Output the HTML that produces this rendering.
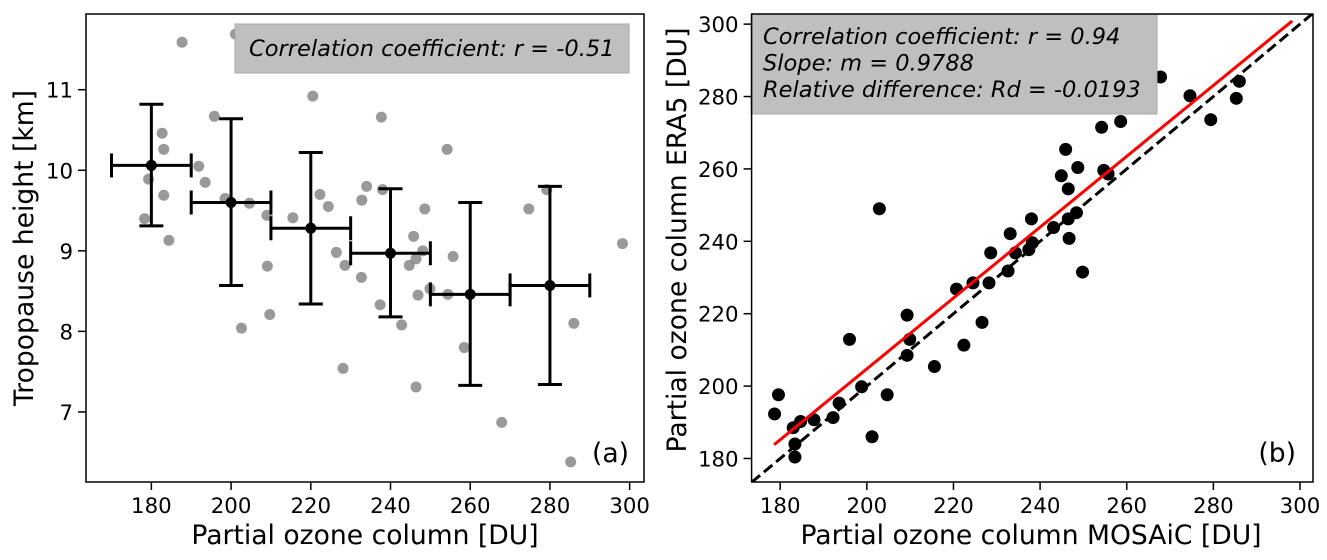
<!DOCTYPE html>
<html><head><meta charset="utf-8"><style>
body{margin:0;background:#fff;}
svg{display:block;font-family:"DejaVu Sans","Liberation Sans",sans-serif;}
</style></head><body>
<svg id="fig" width="1327" height="560"></svg>
<script>
// ---- Panel (a) data ----
const aX = [187.7,201.1,220.5,237.7,195.8,182.7,183.1,254.2,191.9,193.5,179.3,183.1,234.0,238.0,279.2,198.5,204.6,222.3,224.4,232.8,248.6,274.7,209.0,215.5,178.3,184.4,298.2,245.8,226.4,248.1,246.4,255.7,228.6,244.7,209.1,232.7,249.9,254.4,246.9,237.4,209.7,242.8,286.0,202.6,258.5,228.1,246.4,267.9,285.2];
const aY = [11.59,11.69,10.92,10.66,10.67,10.46,10.26,10.26,10.05,9.85,9.89,9.69,9.80,9.76,9.76,9.65,9.59,9.70,9.55,9.63,9.52,9.52,9.44,9.41,9.40,9.13,9.09,9.18,8.98,9.00,8.90,8.93,8.82,8.82,8.81,8.67,8.53,8.46,8.45,8.33,8.21,8.08,8.10,8.04,7.80,7.54,7.31,6.87,6.38];
const binCenters = [180,200,220,240,260,280];
const binMeans = [10.06,9.60,9.28,8.97,8.46,8.57];
const binLow = [9.31,8.57,8.34,8.18,7.33,7.34];
const binHigh = [10.82,10.64,10.22,9.77,9.60,9.80];
const binHalfWidth = 10;
const aXTicks = [180,200,220,240,260,280,300];
const aYTicks = [7,8,9,10,11];
// ---- Panel (b) data ----
const bX = [178.7,179.6,183.0,184.7,183.4,183.4,187.8,192.2,193.6,196.0,198.8,201.2,202.9,204.7,209.3,209.9,209.3,215.6,220.7,222.4,224.5,226.6,228.2,228.6,232.6,233.1,234.3,237.4,238.0,238.2,243.1,244.9,245.9,246.5,246.5,246.7,248.4,248.7,249.8,254.2,254.7,255.7,258.6,267.8,274.6,279.4,285.3,286.0];
const bY = [192.3,197.6,188.5,190.2,184.0,180.4,190.7,191.3,195.3,212.9,199.8,186.0,249.0,197.6,219.6,212.9,208.5,205.4,226.8,211.3,228.5,217.6,228.5,236.8,231.8,242.1,236.8,237.7,246.2,239.6,243.8,258.1,265.4,254.5,246.2,240.8,247.9,260.4,231.5,271.5,259.6,258.6,273.1,285.4,280.2,273.6,279.5,284.2];
const fitSlope = [0.9788];
const fitIntercept = [9.0];
const fitRange = [178.6,298.2];
const bTicks = [180,200,220,240,260,280,300];

const NS="http://www.w3.org/2000/svg";
const svg=document.getElementById('fig');
function mk(tag,attrs,parent){const e=document.createElementNS(NS,tag);for(const k in attrs)e.setAttribute(k,attrs[k]);(parent||svg).appendChild(e);return e;}

const ax={x0:86,x1:644,y0:14,y1:482,xmin:163.6,xmax:303.6,ymin:6.13,ymax:11.94};
const bx={x0:751.6,x1:1313,y0:14,y1:482,xmin:173.4,xmax:303.0,ymin:173.5,ymax:302.8};
function sx(a,v){return a.x0+(v-a.xmin)/(a.xmax-a.xmin)*(a.x1-a.x0);}
function sy(a,v){return a.y1-(v-a.ymin)/(a.ymax-a.ymin)*(a.y1-a.y0);}
const TF=21.3, LF=26.6, BF=22.5;

// ===== Panel a =====
const ga=mk('g',{});


const clipA=mk('clipPath',{id:'ca'});mk('rect',{x:ax.x0,y:ax.y0,width:ax.x1-ax.x0,height:ax.y1-ax.y0},clipA);
const ptsA=mk('g',{'clip-path':'url(#ca)'},ga);


for(let i=0;i<aX.length;i++){
  const c=mk('circle',{cx:sx(ax,aX[i]),cy:sy(ax,aY[i]),r:5.5,fill:'#808080','fill-opacity':0.8},ptsA);
  
  
}
const tba=mk('g',{},ga);


mk('rect',{x:235,y:24,width:394,height:49,fill:'#bfbfbf',stroke:'#a8a8a8','stroke-width':1},tba);
const ta=mk('text',{x:249,y:56,'font-size':BF,'font-style':'italic',fill:'#000'},tba);ta.textContent='Correlation coefficient: r = -0.51';
const eb=mk('g',{},ga);


for(let i=0;i<binCenters.length;i++){
  const cx=sx(ax,binCenters[i]),cy=sy(ax,binMeans[i]);
  const xl=sx(ax,binCenters[i]-binHalfWidth),xr=sx(ax,binCenters[i]+binHalfWidth);
  const yl=sy(ax,binLow[i]),yh=sy(ax,binHigh[i]);
  const st={stroke:'#000','stroke-width':3};
  mk('line',Object.assign({x1:xl,y1:cy,x2:xr,y2:cy},st),eb);
  mk('line',Object.assign({x1:cx,y1:yl,x2:cx,y2:yh},st),eb);
  mk('line',Object.assign({x1:xl,y1:cy-12,x2:xl,y2:cy+12},st),eb);
  mk('line',Object.assign({x1:xr,y1:cy-12,x2:xr,y2:cy+12},st),eb);
  mk('line',Object.assign({x1:cx-12,y1:yl,x2:cx+12,y2:yl},st),eb);
  mk('line',Object.assign({x1:cx-12,y1:yh,x2:cx+12,y2:yh},st),eb);
  const m=mk('circle',{cx:cx,cy:cy,r:5.5,fill:'#000'},eb);
  
  
}
mk('rect',{x:ax.x0,y:ax.y0,width:ax.x1-ax.x0,height:ax.y1-ax.y0,fill:'none',stroke:'#000','stroke-width':1.5},ga);
const xta=mk('g',{},ga);


aXTicks.forEach(v=>{const x=sx(ax,v);mk('line',{x1:x,y1:ax.y1,x2:x,y2:ax.y1+8,stroke:'#000','stroke-width':1.5},xta);
  const t=mk('text',{x:x,y:ax.y1+31,'font-size':TF,'text-anchor':'middle'},xta);t.textContent=v;});
const yta=mk('g',{},ga);


aYTicks.forEach(v=>{const y=sy(ax,v);mk('line',{x1:ax.x0-8,y1:y,x2:ax.x0,y2:y,stroke:'#000','stroke-width':1.5},yta);
  const t=mk('text',{x:ax.x0-13,y:y+8,'font-size':TF,'text-anchor':'end'},yta);t.textContent=v;});
let t=mk('text',{x:365,y:544,'font-size':LF,'text-anchor':'middle'},ga);t.textContent='Partial ozone column [DU]';

t=mk('text',{x:0,y:0,'font-size':LF,'text-anchor':'middle',transform:'translate(33,248) rotate(-90)'},ga);t.textContent='Tropopause height [km]';

t=mk('text',{x:629,y:462,'font-size':LF,'text-anchor':'end'},ga);t.textContent='(a)';


// ===== Panel b =====
const gb=mk('g',{});


const clipB=mk('clipPath',{id:'cb'});mk('rect',{x:bx.x0,y:bx.y0,width:bx.x1-bx.x0,height:bx.y1-bx.y0},clipB);
const inB=mk('g',{'clip-path':'url(#cb)'},gb);
const one=mk('line',{x1:sx(bx,bx.xmin),y1:sy(bx,bx.xmin),x2:sx(bx,bx.xmax),y2:sy(bx,bx.xmax),stroke:'#000','stroke-width':3,'stroke-dasharray':'11,5'},inB);


const ptsB=mk('g',{},inB);


for(let i=0;i<bX.length;i++){
  const c=mk('circle',{cx:sx(bx,bX[i]),cy:sy(bx,bY[i]),r:6.5,fill:'#000'},ptsB);
  
  
}
const fl=mk('line',{x1:sx(bx,fitRange[0]),y1:sy(bx,fitSlope[0]*fitRange[0]+fitIntercept[0]),x2:sx(bx,fitRange[1]),y2:sy(bx,fitSlope[0]*fitRange[1]+fitIntercept[0]),stroke:'#ff0000','stroke-width':3},inB);


const tbb=mk('g',{},gb);


mk('rect',{x:751,y:14,width:406,height:100,fill:'#bfbfbf',stroke:'#a8a8a8','stroke-width':1},tbb);
['Correlation coefficient: r = 0.94','Slope: m = 0.9788','Relative difference: Rd = -0.0193'].forEach((s,i)=>{
  const tt=mk('text',{x:763,y:44+i*26.5,'font-size':BF,'font-style':'italic'},tbb);tt.textContent=s;});
mk('rect',{x:bx.x0,y:bx.y0,width:bx.x1-bx.x0,height:bx.y1-bx.y0,fill:'none',stroke:'#000','stroke-width':1.5},gb);
const xtb=mk('g',{},gb);


const ytb=mk('g',{},gb);


bTicks.forEach(v=>{const x=sx(bx,v);mk('line',{x1:x,y1:bx.y1,x2:x,y2:bx.y1+8,stroke:'#000','stroke-width':1.5},xtb);
  let q=mk('text',{x:x,y:bx.y1+31,'font-size':TF,'text-anchor':'middle'},xtb);q.textContent=v;
  const y=sy(bx,v);mk('line',{x1:bx.x0-8,y1:y,x2:bx.x0,y2:y,stroke:'#000','stroke-width':1.5},ytb);
  q=mk('text',{x:bx.x0-13,y:y+8,'font-size':TF,'text-anchor':'end'},ytb);q.textContent=v;});
t=mk('text',{x:1031,y:544,'font-size':LF,'text-anchor':'middle'},gb);t.textContent='Partial ozone column MOSAiC [DU]';

t=mk('text',{x:0,y:0,'font-size':LF,'text-anchor':'middle',transform:'translate(686,240) rotate(-90)'},gb);t.textContent='Partial ozone column ERA5 [DU]';

t=mk('text',{x:1296,y:462,'font-size':LF,'text-anchor':'end'},gb);t.textContent='(b)';

</script>
</body></html>
